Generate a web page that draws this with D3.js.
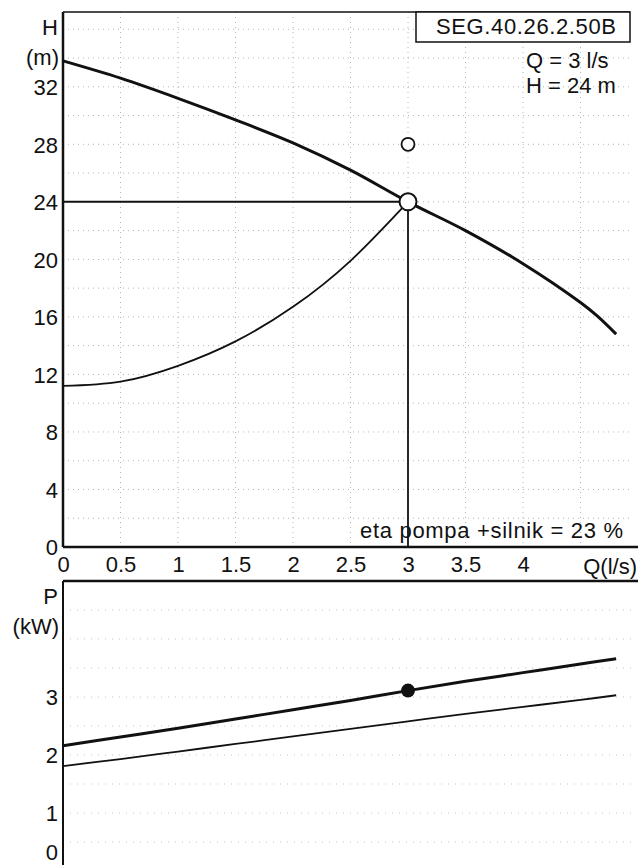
<!DOCTYPE html>
<html>
<head>
<meta charset="utf-8">
<script src="https://cdn.jsdelivr.net/npm/d3@7"></script>
<style>
    body { margin: 0; background: #fff; }
    text { font-family: "Liberation Sans", Arial, sans-serif; fill: #111; }
</style>
</head>
<body>
<div id="chart"></div>
<script>
// chart data
const qTicks = [0, 0.5, 1, 1.5, 2, 2.5, 3, 3.5, 4];
const hTicks = [0, 4, 8, 12, 16, 20, 24, 28, 32];
const pTicks = [0, 1, 2, 3];

// pump curve H(Q)
const pumpQ = [0, 0.5, 1, 1.5, 2, 2.5, 3, 3.5, 4, 4.5, 4.64, 4.81];
const pumpH = [33.8, 32.6, 31.2, 29.7, 28.1, 26.2, 24.0, 22.0, 19.7, 17.0, 16.1, 14.8];

// system curve through the duty point
const systemQ = [0, 0.5, 1, 1.5, 2, 2.5, 3];
const systemH = [11.2, 11.5, 12.6, 14.3, 16.7, 19.9, 24.0];

// power curves P(Q)
const powerQ = [0, 0.5, 1, 1.5, 2, 2.5, 3, 3.5, 4, 4.5, 4.81];
const powerP1 = [2.16, 2.31, 2.46, 2.62, 2.78, 2.94, 3.11, 3.27, 3.42, 3.57, 3.66];
const powerP2 = [1.81, 1.93, 2.06, 2.19, 2.32, 2.45, 2.58, 2.71, 2.83, 2.95, 3.03];

// duty point and the marker above it
const dutyQ = 3, dutyH = 24, dutyP = 3.11;
const markQ = 3, markH = 28;

const pumpName = "SEG.40.26.2.50B";
const infoLines = ["Q = 3 l/s", "H = 24 m"];
const etaText = "eta pompa +silnik = 23 %";

const width = 638, height = 865;
const fontSize = 22;

const svg = d3.select("#chart").append("svg")
    .attr("width", width)
    .attr("height", height);

// scales
const x = d3.scaleLinear().domain([0, 5]).range([63, 638]);
const yH = d3.scaleLinear().domain([0, 37.2]).range([547, 12]);
const yP = d3.scaleLinear().domain([0, 5]).range([871, 581]);

const line = (ys, curve) => d3.line()
    .x(d => x(d[0]))
    .y(d => ys(d[1]))
    .curve(curve);

// dotted grid, top panel
const gridTop = svg.append("g")
    .style("stroke", "#b4b4b4")
    .style("stroke-width", 1)
    .style("stroke-dasharray", "1,4");
gridTop.selectAll(".gh").data(d3.range(2, 37, 2)).enter().append("line")
    .attr("x1", x(0)).attr("x2", x(4.95))
    .attr("y1", d => yH(d)).attr("y2", d => yH(d));
gridTop.selectAll(".gv").data(d3.range(0.5, 5, 0.5)).enter().append("line")
    .attr("x1", d => x(d)).attr("x2", d => x(d))
    .attr("y1", yH(37.2)).attr("y2", yH(0));

// dotted grid, bottom panel
const gridBot = svg.append("g")
    .style("stroke", "#c4c4c4")
    .style("stroke-width", 1)
    .style("stroke-dasharray", "1,6");
gridBot.selectAll(".gh").data(d3.range(0.5, 5, 0.5)).enter().append("line")
    .attr("x1", x(0)).attr("x2", x(4.95))
    .attr("y1", d => yP(d)).attr("y2", d => yP(d));

// frame lines
svg.append("line").attr("x1", x(0)).attr("x2", 630).attr("y1", yH(37.2)).attr("y2", yH(37.2))
    .style("stroke", "#111").style("stroke-width", 1.5);
svg.append("line").attr("x1", x(0)).attr("x2", x(0)).attr("y1", yH(37.2)).attr("y2", yH(0))
    .style("stroke", "#111").style("stroke-width", 2.5);
svg.append("line").attr("x1", x(0)).attr("x2", width).attr("y1", yH(0)).attr("y2", yH(0))
    .style("stroke", "#111").style("stroke-width", 2.5);
svg.append("line").attr("x1", x(0)).attr("x2", width).attr("y1", yP(5)).attr("y2", yP(5))
    .style("stroke", "#111").style("stroke-width", 2.5);
svg.append("line").attr("x1", x(0)).attr("x2", x(0)).attr("y1", yP(5)).attr("y2", height)
    .style("stroke", "#111").style("stroke-width", 2);

// axes: labels only, no tick marks
const axisH = svg.append("g")
    .attr("transform", `translate(${x(0) - 5},0)`)
    .call(d3.axisLeft(yH).tickValues(hTicks).tickSize(0).tickPadding(0).tickFormat(d3.format("d")));
const axisP = svg.append("g")
    .attr("transform", `translate(${x(0) - 5},0)`)
    .call(d3.axisLeft(yP).tickValues(pTicks).tickSize(0).tickPadding(0).tickFormat(d3.format("d")));
const axisQ = svg.append("g")
    .attr("transform", `translate(0,${yH(0) + 9})`)
    .call(d3.axisBottom(x).tickValues(qTicks).tickSize(0).tickPadding(0).tickFormat(d3.format("")));
[axisH, axisP, axisQ].forEach(a => {
    a.select(".domain").remove();
    a.selectAll("text")
        .style("font-size", fontSize + "px")
        .style("font-family", "Liberation Sans, Arial, sans-serif")
        .attr("fill", "#111");
});
axisH.selectAll("text").attr("dy", "0.36em");
axisP.selectAll("text").attr("dy", "0.36em");
// the 0 kW label sits just inside the picture
axisP.selectAll("text").filter(d => d === 0).attr("y", -19);
axisQ.selectAll("text").attr("dy", "0.72em");

// axis titles
const title = (txt, tx, ty, anchor) => svg.append("text")
    .attr("x", tx).attr("y", ty)
    .attr("text-anchor", anchor)
    .style("font-size", fontSize + "px")
    .text(txt);
title("H", 58, 35, "end");
title("(m)", 59, 65, "end");
title("P", 58, 604, "end");
title("(kW)", 59, 634, "end");
title("Q(l/s)", 637, 574, "end");
title(etaText, 623, 538, "end").attr("textLength", 263);

// name box and duty info
svg.append("rect")
    .attr("x", 416).attr("y", yH(37.2))
    .attr("width", 630 - 416).attr("height", 42 - yH(37.2))
    .style("fill", "#fff").style("stroke", "#111").style("stroke-width", 1.5);
title(pumpName, 526, 34, "middle").attr("textLength", 180);
infoLines.forEach((t, i) => title(t, 526, 68 + i * 25, "start"));

// helper lines to the duty point
svg.append("line")
    .attr("x1", x(0)).attr("x2", x(dutyQ))
    .attr("y1", yH(dutyH)).attr("y2", yH(dutyH))
    .style("stroke", "#111").style("stroke-width", 2);
svg.append("line")
    .attr("x1", x(dutyQ)).attr("x2", x(dutyQ))
    .attr("y1", yH(dutyH)).attr("y2", yH(0))
    .style("stroke", "#111").style("stroke-width", 1.8);

// system curve
svg.append("path")
    .datum(d3.zip(systemQ, systemH))
    .attr("d", line(yH, d3.curveNatural))
    .style("fill", "none").style("stroke", "#111").style("stroke-width", 1.8);

// pump curve
svg.append("path")
    .datum(d3.zip(pumpQ, pumpH))
    .attr("d", line(yH, d3.curveCatmullRom))
    .style("fill", "none").style("stroke", "#111").style("stroke-width", 3);

// duty point markers
svg.append("circle")
    .attr("cx", x(dutyQ)).attr("cy", yH(dutyH)).attr("r", 8.5)
    .style("fill", "#fff").style("stroke", "#111").style("stroke-width", 2);
svg.append("circle")
    .attr("cx", x(markQ)).attr("cy", yH(markH)).attr("r", 6.5)
    .style("fill", "#fff").style("stroke", "#111").style("stroke-width", 1.8);

// power curves
svg.append("path")
    .datum(d3.zip(powerQ, powerP2))
    .attr("d", line(yP, d3.curveCatmullRom))
    .style("fill", "none").style("stroke", "#111").style("stroke-width", 1.8);
svg.append("path")
    .datum(d3.zip(powerQ, powerP1))
    .attr("d", line(yP, d3.curveCatmullRom))
    .style("fill", "none").style("stroke", "#111").style("stroke-width", 3);
svg.append("circle")
    .attr("cx", x(dutyQ)).attr("cy", yP(dutyP)).attr("r", 7)
    .style("fill", "#111");
</script>
</body>
</html>
